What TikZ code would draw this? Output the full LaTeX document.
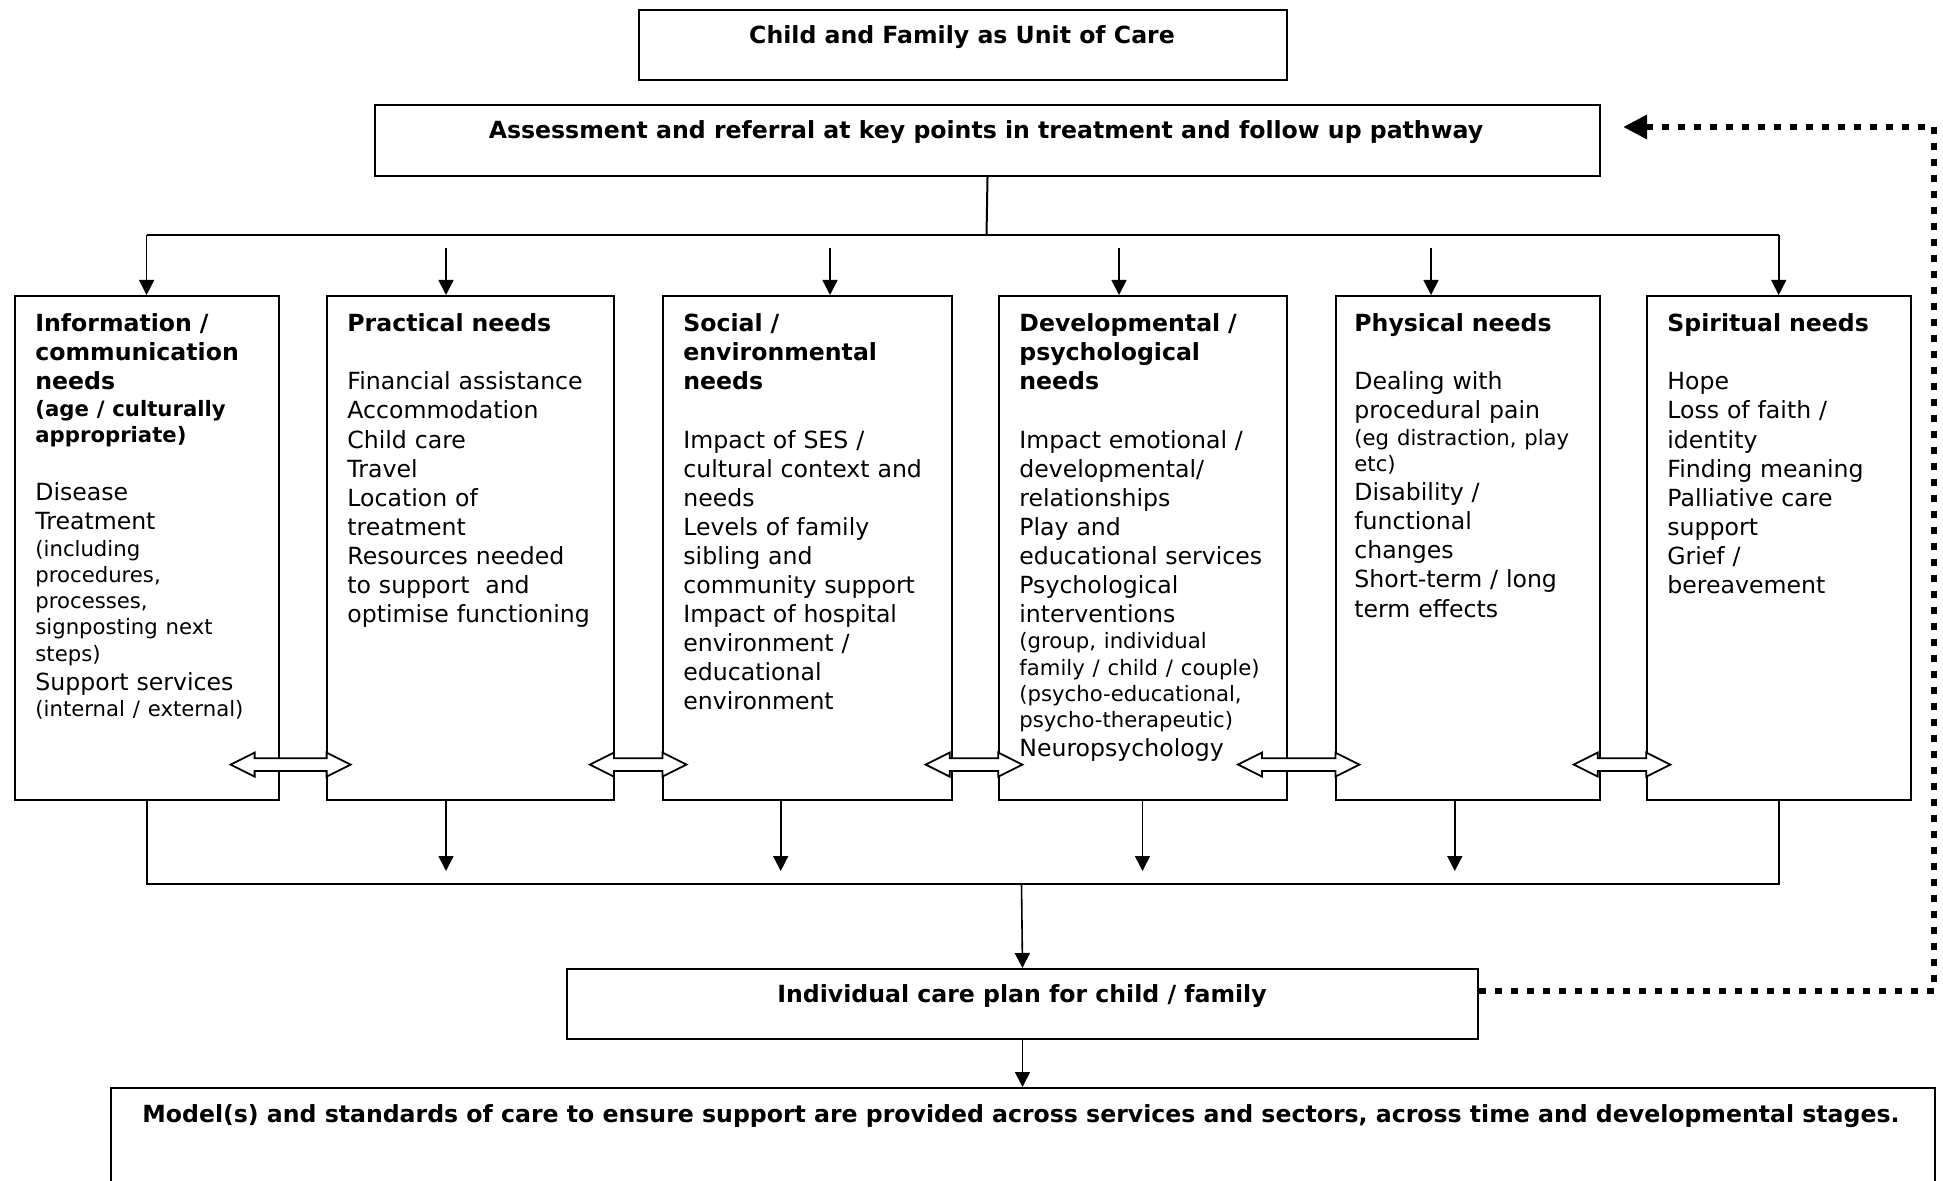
\documentclass[tikz,border=0pt]{standalone}
\usepackage{fontspec}
\setmainfont{DejaVu Sans}
\usetikzlibrary{arrows.meta}

\newcommand{\sm}[1]{{\fontsize{10.6}{13.15}\selectfont #1\par}}
\newcommand{\gap}{\vspace{14.5pt}}
% hollow two-way arrow round a named centre: #1 centre, #2 length (px)
\newcommand{\linkarrow}[2]{%
  \draw[twoway] (#1) ++({-#2/2},0) -- ++(24,-12) -- ++(0,5.65) -- ++({#2-48},0)
    -- ++(0,-5.65) -- ++(24,12) -- ++(-24,12) -- ++(0,-5.65) -- ++({48-#2},0)
    -- ++(0,5.65) -- cycle;}

\tikzset{
  box/.style={draw, line width=1pt, inner sep=0pt, anchor=north west},
  needtxt/.style={anchor=north west, inner sep=0pt, text width=130pt, align=left, font=\fontsize{11.8}{14.55}\selectfont},
  titletxt/.style={inner sep=0pt, font=\fontsize{11.8}{14.55}\selectfont\bfseries},
  arr/.style={line width=0.8pt, -{Triangle[length=7.5pt,width=7.5pt]}},
  link/.style={line width=1pt},
  twoway/.style={draw, fill=white, line width=0.9pt, line join=miter},
  fback/.style={line width=3.3pt, dash pattern=on 3.3pt off 4.7pt, -{Triangle[length=12pt,width=11.5pt]}}
}

\begin{document}
\begin{tikzpicture}[x=0.5pt,y=0.5pt,yscale=-1,xscale=1]
\useasboundingbox (0,0) rectangle (1943,1181);

%Shape: Rectangle (top)
\node[box, minimum width=324pt, minimum height=35pt] (unit) at (638,9) {};
\node[titletxt] (unitTxt) at (962,37.5) {Child and Family as Unit of Care};
%Shape: Rectangle (assessment)
\node[box, minimum width=612.5pt, minimum height=35.5pt] (assess) at (374,104) {};
\node[titletxt] (assessTxt) at (986,132.5) {Assessment and referral at key points in treatment and follow up pathway};

%Shape: Rectangle (need columns)
\node[box, minimum width=132pt, minimum height=252pt] (info) at (13.6,295) {};
\node[box, minimum width=143.7pt, minimum height=252pt] (practical) at (326,295) {};
\node[box, minimum width=144.4pt, minimum height=252pt] (social) at (661.7,295) {};
\node[box, minimum width=144.4pt, minimum height=252pt] (devel) at (997.6,295) {};
\node[box, minimum width=132pt, minimum height=252pt] (physical) at (1334.6,295) {};
\node[box, minimum width=132pt, minimum height=252pt] (spirit) at (1645.7,295) {};

% Text Node
\node[needtxt] (infoTxt) at (35,311) {\strut\textbf{Information /}\par
\textbf{communication}\par
\textbf{needs}\par
\sm{\textbf{(age / culturally}}
\sm{\textbf{appropriate)}}
\gap
Disease\par
Treatment\par
\sm{(including}
\sm{procedures,}
\sm{processes,}
\sm{signposting next}
\sm{steps)}
Support services\par
\sm{(internal / external)}};
% Text Node
\node[needtxt] (practicalTxt) at (347,311) {\strut\textbf{Practical needs}\par
\gap
Financial assistance\par
Accommodation\par
Child care\par
Travel\par
Location of\par
treatment\par
Resources needed\par
to support~ and\par
optimise functioning};
% Text Node
\node[needtxt] (socialTxt) at (683,311) {\strut\textbf{Social /}\par
\textbf{environmental}\par
\textbf{needs}\par
\gap
Impact of SES /\par
cultural context and\par
needs\par
Levels of family\par
sibling and\par
community support\par
Impact of hospital\par
environment /\par
educational\par
environment};
% Text Node
\node[needtxt] (develTxt) at (1019,311) {\strut\textbf{Developmental /}\par
\textbf{psychological}\par
\textbf{needs}\par
\gap
Impact emotional /\par
developmental/\par
relationships\par
Play and\par
educational services\par
Psychological\par
interventions\par
\sm{(group, individual}
\sm{family / child / couple)}
\sm{(psycho-educational,}
\sm{psycho-therapeutic)}
Neuropsychology};
% Text Node
\node[needtxt] (physicalTxt) at (1354,311) {\strut\textbf{Physical needs}\par
\gap
Dealing with\par
procedural pain\par
\sm{(eg distraction, play}
\sm{etc)}
Disability /\par
functional\par
changes\par
Short-term / long\par
term effects};
% Text Node
\node[needtxt] (spiritTxt) at (1667,311) {\strut\textbf{Spiritual needs}\par
\gap
Hope\par
Loss of faith /\par
identity\par
Finding meaning\par
Palliative care\par
support\par
Grief /\par
bereavement};

%Shape: Double Arrow
\coordinate (ioPr) at (290.6,764.6);
\coordinate (prSo) at (638.2,764.6);
\coordinate (soDe) at (974,764.6);
\coordinate (dePh) at (1298.7,764.6);
\coordinate (phSp) at (1622,764.6);
\linkarrow{ioPr}{120}
\linkarrow{prSo}{96.6}
\linkarrow{soDe}{96.6}
\linkarrow{dePh}{121.4}
\linkarrow{phSp}{96.6}

%Shape: Rectangle (care plan)
\node[box, minimum width=455.5pt, minimum height=35pt] (care) at (566,968) {};
\node[titletxt] (careTxt) at (1022,996.5) {Individual care plan for child / family};
%Shape: Rectangle (model)
\node[box, minimum width=912pt, minimum height=60pt] (model) at (110,1087) {};
\node[titletxt] (modelTxt) at (1021,1116.5) {Model(s) and standards of care to ensure support are provided across services and sectors, across time and developmental stages.};

%Straight Lines (top branching)
\coordinate (busTop) at (986.5,235.5);
\draw[link] (assess.south) -- (busTop);
\draw[arr] (busTop) -| (info.north);
\draw[arr] (busTop) -| (spirit.north);
\draw[link] (info.north |- busTop) -- (spirit.north |- busTop);
\coordinate (prIn) at (446,248);
\coordinate (soIn) at (830,248);
\coordinate (deIn) at (1119,248);
\coordinate (phIn) at (1431,248);
\draw[arr] (prIn) -- (prIn |- practical.north);
\draw[arr] (soIn) -- (soIn |- social.north);
\draw[arr] (deIn) -- (deIn |- devel.north);
\draw[arr] (phIn) -- (phIn |- physical.north);

%Straight Lines (bottom gathering)
\coordinate (busBot) at (1021.5,883.5);
\draw[link] (info.south) |- (busBot);
\draw[link] (spirit.south) |- (busBot);
\coordinate (prOut) at (446,871);
\coordinate (soOut) at (780.7,871);
\coordinate (deOut) at (1142.5,871);
\coordinate (phOut) at (1454.8,871);
\draw[arr] (prOut |- practical.south) -- (prOut);
\draw[arr] (soOut |- social.south) -- (soOut);
\draw[arr] (deOut |- devel.south) -- (deOut);
\draw[arr] (phOut |- physical.south) -- (phOut);
\draw[arr] (busBot) -- (care.north);
\draw[arr] (care.south) -- (care.south |- model.north);

%Dotted feedback
\coordinate (fbStart) at (1479,991);
\coordinate (fbCorner) at (1934,127);
\coordinate (fbEnd) at (1623,127);
\draw[fback] (fbStart) -| (fbCorner) -- (fbEnd);
\end{tikzpicture}
\end{document}
